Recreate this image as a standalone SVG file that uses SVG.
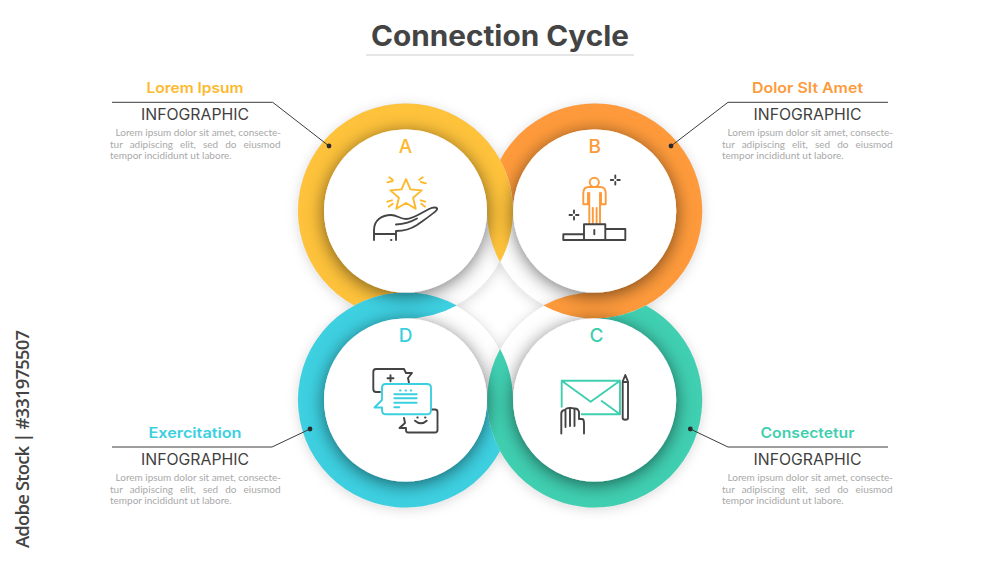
<svg xmlns="http://www.w3.org/2000/svg" width="1000" height="563" viewBox="0 0 1000 563">
<style>
text{font-family:"Inter","Liberation Sans",sans-serif;text-anchor:middle}
.title{font-size:28px;font-weight:700;fill:#444}
.head{font-size:14.5px;font-weight:600}
.info{font-size:15.5px;font-weight:400;fill:#3f3f3f}
.body{font-family:"Lato","Liberation Sans",sans-serif;font-size:10px;fill:#a9a9a9;text-anchor:start}
.letter{font-size:19px;font-weight:500}
.stock{font-family:"Open Sans","Liberation Sans",sans-serif;font-size:18.5px;font-weight:600;fill:#444;text-anchor:start}
.wire{fill:none;stroke:#3c3c3c;stroke-width:1}
.dot{fill:#2b2b2b}
.disc{fill:#fff;filter:url(#discShadow)}
.base{fill:#fff;stroke:#dcdcdc;stroke-width:.7;filter:url(#baseShadow)}
.ic{fill:none;stroke-width:1.9;stroke-linejoin:round;stroke-linecap:round}
.dk{stroke:#444}
.y{stroke:#fdb92e}.o{stroke:#fd9a3a}.c{stroke:#3ad0e0}.g{stroke:#3fcfb0}
.fy{fill:#fdb92e}.fo{fill:#fd9a3a}.fc{fill:#3ad0e0}.fg{fill:#3fcfb0}
</style>
<defs>
<filter id="discShadow" x="-30%" y="-30%" width="160%" height="160%"><feDropShadow dx="0" dy="3" stdDeviation="9" flood-color="#000" flood-opacity=".55"/></filter>
<filter id="baseShadow" x="-20%" y="-20%" width="140%" height="140%"><feDropShadow dx="0" dy="2" stdDeviation="6" flood-color="#000" flood-opacity=".14"/></filter>
</defs>
<rect width="1000" height="563" fill="#fff"/>
<g id="title">
<text class="title" x="500" y="45.5" textLength="258" lengthAdjust="spacingAndGlyphs">Connection Cycle</text>
<rect x="366" y="54" width="268" height="2" fill="#e6e6e6"/>
</g>
<text class="stock" transform="translate(29,548) rotate(-90)" textLength="218">Adobe Stock | #331975507</text>
<g id="bands">
<circle class="base" cx="405.5" cy="211" r="107.5"/>
<circle class="base" cx="594.7" cy="211" r="107.5"/>
<circle class="base" cx="405.5" cy="400" r="107.5"/>
<circle class="base" cx="594.7" cy="400" r="107.5"/>
<path fill="#fec23b" d="M500.1 262.1A107.5 107.5 0 1 0 354.3 305.5A107.5 107.5 0 0 1 405.5 292.5A81.5 81.5 0 1 1 487 211A107.5 107.5 0 0 0 500.1 262.1Z"/>
<path fill="#fe9a3b" d="M500.1 159.9A107.5 107.5 0 1 1 543.5 305.5A107.5 107.5 0 0 1 594.7 292.5A81.5 81.5 0 1 0 513.2 211A107.5 107.5 0 0 0 500.1 159.9Z"/>
<path fill="#40cfb1" d="M645.9 305.5A107.5 107.5 0 1 1 500.1 348.9A107.5 107.5 0 0 1 513 400A81.5 81.5 0 1 0 594.7 318.5A107.5 107.5 0 0 0 645.9 305.5Z"/>
<path fill="#3dd0e1" d="M500.1 451.1A107.5 107.5 0 1 1 456.7 305.5A107.5 107.5 0 0 1 405.5 318.5A81.5 81.5 0 1 0 487 400A107.5 107.5 0 0 0 500.1 451.1Z"/>
</g>
<g id="node-a">
<circle class="disc" cx="405.5" cy="211" r="81.5"/>
<text class="letter fy" x="405.5" y="152.5">A</text>
<path class="ic y" d="M406 179L410.4 189.4L421.7 190.4L413.1 197.8L415.7 208.8L406 203L396.3 208.8L398.9 197.8L390.3 190.4L401.6 189.4Z"/>
<path class="ic y" d="M389.3 177.3L392.7 179.7M387.3 182.3L392.7 181M422.7 177.3L419.3 179.7M426 183.3L420.7 182M387.3 201.7L392 200.3M388.7 206.7L392.7 203.7M425.3 201.7L420.7 200.3M425 206.7L421.3 203.7"/>
<path class="ic dk" d="M374 240V230C374 220 382 215 391 215C397 215 400 219 406 219C413 219 421 213 429 209C433 207 438 207 437 209.5C436 212 424 220 417 225C411 229 402 231 396 231V240M374 234H396M396 224.5C403 224 411 222 417 218.5M391 240H391.5"/>
<text class="head fy" x="195" y="93" textLength="97" lengthAdjust="spacingAndGlyphs">Lorem Ipsum</text>
<text class="info" x="195" y="119.5" textLength="108" lengthAdjust="spacingAndGlyphs">INFOGRAPHIC</text>
<text class="body" x="115.5" y="135.5" textLength="165.5">Lorem ipsum dolor sit amet, consecte-</text>
<text class="body" x="110" y="147.5" word-spacing="4.5">tur adipiscing elit, sed do eiusmod</text>
<text class="body" x="110" y="159.3">tempor incididunt ut labore.</text>
</g>
<g id="node-b">
<circle class="disc" cx="594.7" cy="211" r="81.5"/>
<text class="letter fo" x="594.7" y="152.5">B</text>
<circle class="ic o" cx="594.3" cy="182.3" r="4.6"/>
<path class="ic o" d="M583.3 204.3V193.3Q583.3 187 589 187H600Q605.7 187 605.7 193.3V204.3H601V193M588 193V204.3H583.3M589.3 193V223M600 193V223M592.8 208V223M596.6 208V223"/>
<path class="ic dk" d="M584 240V224.3H605.3V240M563.3 240V234.3H584M605.3 229H625.3V240H563.3M594.3 230V234.3M615.3 175.5V178M615.3 182V184.5M610.8 180H613.3M617.3 180H619.8M574 210.5V213M574 217V219.5M569.5 215H572M576 215H578.5"/>
<text class="head fo" x="807.5" y="93" textLength="111" lengthAdjust="spacingAndGlyphs">Dolor SIt Amet</text>
<text class="info" x="807.5" y="119.5" textLength="108" lengthAdjust="spacingAndGlyphs">INFOGRAPHIC</text>
<text class="body" x="727.5" y="135.5" textLength="165.5">Lorem ipsum dolor sit amet, consecte-</text>
<text class="body" x="722" y="147.5" word-spacing="4.5">tur adipiscing elit, sed do eiusmod</text>
<text class="body" x="722" y="159.3">tempor incididunt ut labore.</text>
</g>
<g id="node-c">
<circle class="disc" cx="594.7" cy="400" r="81.5"/>
<text class="letter fg" x="596.5" y="341.5">C</text>
<path class="ic g" d="M561.7 406.7V380.7H620V414.3H581.7M561.7 380.7L590.7 401.7L620 380.7M601.7 401L620 414.3"/>
<path class="ic dk" d="M622.7 381.5L625.3 375L628 381.5V418Q628 419.7 625.3 419.7Q622.7 419.7 622.7 418ZM622.7 382H628M561.3 433.5V413Q562 410 565 410Q566 408 569 408Q571 407.5 574 408.5Q578 408 579 412V419H582Q584 419 584 423V433.5M565.5 411V427M570 409V426M574.5 409V426"/>
<text class="head fg" x="807.5" y="438" textLength="94" lengthAdjust="spacingAndGlyphs">Consectetur</text>
<text class="info" x="807.5" y="464.5" textLength="108" lengthAdjust="spacingAndGlyphs">INFOGRAPHIC</text>
<text class="body" x="727.5" y="480.5" textLength="165.5">Lorem ipsum dolor sit amet, consecte-</text>
<text class="body" x="722" y="492.5" word-spacing="4.5">tur adipiscing elit, sed do eiusmod</text>
<text class="body" x="722" y="504.3">tempor incididunt ut labore.</text>
</g>
<g id="node-d">
<circle class="disc" cx="405.5" cy="400" r="81.5"/>
<text class="letter fc" x="405.5" y="341.5">D</text>
<path class="ic dk" d="M380 392H376Q373.3 392 373.3 389V372Q373.3 369 376 369H404L406 373H412L408 378L409 383M387.5 378.3H393.5M390.5 375.3V381.3M431.5 409.5H435Q437.5 409.5 437.5 412V430Q437.5 432.5 435 432.5H408Q406 432.5 406 430V428H399.5L405 423L404 418M415 420.7Q421 426 426.7 420.7M417.3 417.5H417.8M425 417.5H425.5"/>
<path class="ic c" d="M385.7 384H427Q431 384 431 388V410Q431 414.3 427 414.3H386Q382 414.3 382 410V407.5H374.5L382 400V388Q382 384 385.7 384ZM400 390.5H400.6M405.5 390.5H406.1M410.7 390.5H411.3M394.3 394.3H416.7M394.3 398.3H416.7M394.3 402.7H416.7M394.3 407.3H399.3"/>
<text class="head fc" x="195" y="438" textLength="93" lengthAdjust="spacingAndGlyphs">Exercitation</text>
<text class="info" x="195" y="464.5" textLength="108" lengthAdjust="spacingAndGlyphs">INFOGRAPHIC</text>
<text class="body" x="115.5" y="480.5" textLength="165.5">Lorem ipsum dolor sit amet, consecte-</text>
<text class="body" x="110" y="492.5" word-spacing="4.5">tur adipiscing elit, sed do eiusmod</text>
<text class="body" x="110" y="504.3">tempor incididunt ut labore.</text>
</g>
<g id="connectors">
<path class="wire" d="M112 102.3H272.7L329 146"/><circle class="dot" cx="329" cy="146" r="2.4"/>
<path class="wire" d="M888 102.3H728L671 146"/><circle class="dot" cx="671" cy="146" r="2.4"/>
<path class="wire" d="M112 447H272L310 429"/><circle class="dot" cx="310" cy="429" r="2.4"/>
<path class="wire" d="M888 447H728L690.3 429"/><circle class="dot" cx="690.3" cy="429" r="2.4"/>
</g>
</svg>
